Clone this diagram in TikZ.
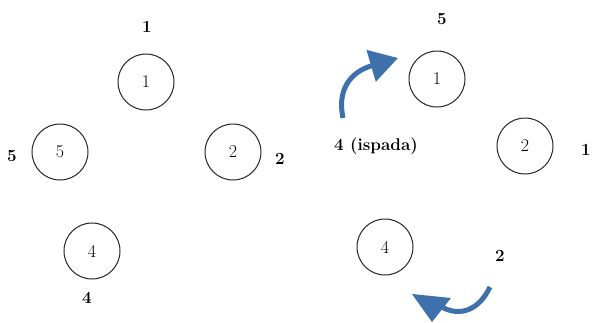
\documentclass[tikz,border=0pt]{standalone}
\usetikzlibrary{arrows.meta}
\definecolor{strelka}{RGB}{62,112,172}
\tikzset{
  krug/.style={draw=black!85, circle, line width=1pt, minimum size=56pt, inner sep=0pt, font=\fontsize{18}{21}\selectfont},
  metka/.style={font=\fontsize{17}{20}\selectfont\bfseries, inner sep=0pt},
  strel/.style={draw=strelka, line width=5pt}
}
\begin{document}
\begin{tikzpicture}[x=1pt,y=-1pt]
\useasboundingbox (0,0) rectangle (592,322); % размер как у исходной картинки
% левая часть
\node[krug] (l1) at (146,82) {1};
\node[krug] (l5) at (60,152) {5};
\node[krug] (l2) at (233,152) {2};
\node[krug] (l4) at (92,251) {4};
\node[metka] (m1) at (147,27) {1};
\node[metka] (m5) at (12,156) {5};
\node[metka] (m2) at (280,159) {2};
\node[metka] (m4) at (87,298) {4};
% правая часть
\node[krug] (r1) at (437,79) {1};
\node[krug] (r2) at (525,146) {2};
\node[krug] (r4) at (385,247) {4};
\node[metka] (n5) at (442,19) {5};
\node[metka] (n1) at (586,150) {1};
\node[metka] (n2) at (500,256) {2};
\node[metka] (n4) at (376,146) {4 (ispada)};
% синие стрелки
\draw[strel, -{Triangle[length=28pt,width=32pt]}] (343,118) .. controls (337,90) and (350,72) .. (398,58);
\draw[strel] (490,287) .. controls (478,312) and (458,317) .. (440,306);
\path[fill=strelka] (412,294) -- (451,298) -- (432,322) -- cycle; % наконечник второй стрелки
\end{tikzpicture}
\end{document}
